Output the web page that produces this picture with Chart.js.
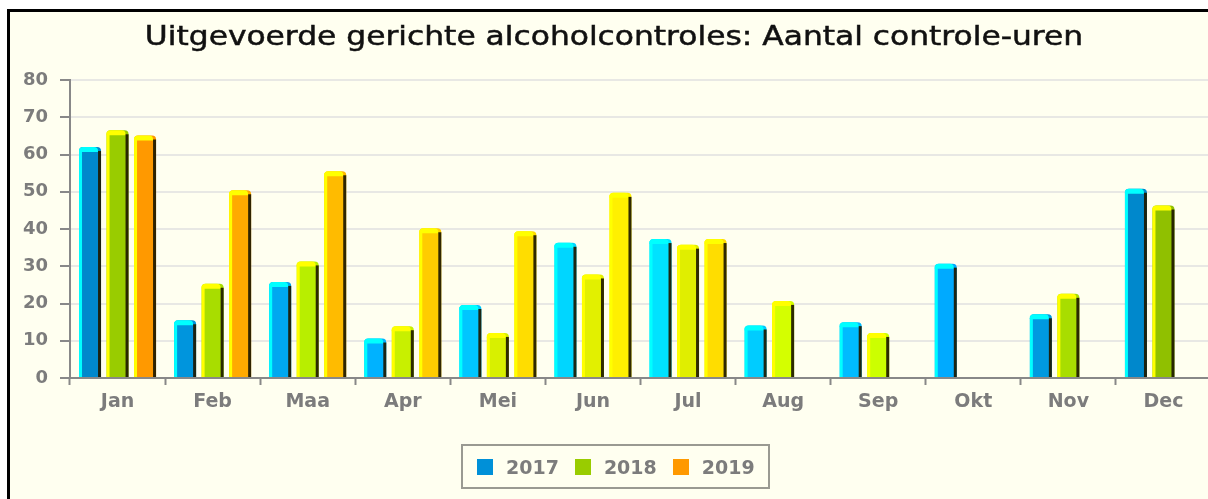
<!DOCTYPE html>
<html>
<head>
<meta charset="utf-8">
<script src="https://cdn.jsdelivr.net/npm/chart.js@4.4.0/dist/chart.umd.min.js"></script>
<style>
  html, body { margin: 0; padding: 0; background: #fff; overflow: hidden; }
  #frame { position: absolute; left: 7px; top: 9px; width: 1208px; height: 520px; border: 3px solid #000; background: #fffff0; }
  #wrap { position: absolute; left: 0; top: 0; width: 1208px; height: 520px; }
  #legend { position: absolute; left: 451px; top: 432px; width: 309px; height: 45px; box-sizing: border-box;
    border: 2px solid #9a9a92; display: flex; align-items: center; padding-left: 14px;
    font: bold 19px "DejaVu Sans", sans-serif; color: #7c7c7c; }
  #legend .item { display: flex; align-items: center; margin-right: 16px; }
  #legend .sw { width: 16px; height: 16px; margin-right: 13px; }
</style>
</head>
<body>
<div id="frame">
  <div id="wrap"><canvas id="chart"></canvas></div>
  <div id="legend"></div>
</div>
<script>
const title = 'Uitgevoerde gerichte alcoholcontroles: Aantal controle-uren';
const months = ['Jan', 'Feb', 'Maa', 'Apr', 'Mei', 'Jun', 'Jul', 'Aug', 'Sep', 'Okt', 'Nov', 'Dec'];
const years = ['2017', '2018', '2019'];
const uren2017 = [62, 15.5, 25.8, 10.6, 19.6, 36.3, 37.3, 14.1, 15, 30.7, 17.1, 50.8];
const uren2018 = [66.5, 25.3, 31.3, 13.9, 12.1, 27.8, 35.8, 20.7, 12.1, null, 22.6, 46.3];
const uren2019 = [65.1, 50.4, 55.5, 40.2, 39.4, 49.7, 37.3, null, null, null, null, null];

// per-month fill colours, they drift over the year like the original
const blues = ['#0088cc', '#0095dd', '#00a8f0', '#00b2ff', '#00c6ff', '#00d6ff', '#00e2ff', '#00ccff', '#00bbff', '#00aaff', '#0099e0', '#0088cc'];
const greens = ['#99cc00', '#a8dd00', '#b8ee00', '#c8f000', '#d8f000', '#e2f000', '#e0ee00', '#d4ff00', '#ccff00', '#bbee00', '#a8dd00', '#90c000'];
const oranges = ['#ff9900', '#ffaa00', '#ffbb00', '#ffcc00', '#ffdd00', '#fff000', '#ffdd00', '#ffcc00', '#ffbb00', '#ffaa00', '#ff9900', '#ff9900'];
const legendColors = ['#0090d8', '#99cc00', '#ff9900'];

const font = 'DejaVu Sans';
const gray = '#7c7c7c';

// bright cap + left edge, dark right edge: the old "3d" bar look
const bevel = {
  id: 'bevel',
  afterDatasetsDraw(chart) {
    const ctx = chart.ctx;
    chart.data.datasets.forEach((ds, i) => {
      const meta = chart.getDatasetMeta(i);
      if (meta.hidden) return;
      meta.data.forEach((bar, j) => {
        if (ds.data[j] == null) return;
        const {x, y, base, width} = bar.getProps(['x', 'y', 'base', 'width'], true);
        const l = x - width / 2, r = x + width / 2;
        ctx.save();
        ctx.fillStyle = ds.edge;
        ctx.fillRect(l, y + 2, 3, base - y - 2);
        ctx.beginPath();
        ctx.roundRect(l, y, width - 3, 5, [4, 4, 0, 0]);
        ctx.fill();
        ctx.fillStyle = 'rgba(30,25,0,.92)';
        ctx.fillRect(r - 3, y + 4, 3, base - y - 4);
        ctx.restore();
      });
    });
  }
};

// title drawn by hand: the original lettering is stretched sideways
const titleText = {
  id: 'titleText',
  afterDraw(chart) {
    const ctx = chart.ctx;
    ctx.save();
    ctx.translate(chart.width / 2, 33);
    ctx.scale(1.16, 1);
    ctx.font = `27px "${font}"`;
    ctx.fillStyle = '#111';
    ctx.strokeStyle = '#111';
    ctx.lineWidth = 0.5;
    ctx.textAlign = 'center';
    ctx.textBaseline = 'alphabetic';
    ctx.fillText(title, 0, 0);
    ctx.strokeText(title, 0, 0);
    ctx.restore();
  }
};

const legend = document.getElementById('legend');
years.forEach((yr, i) => {
  legend.insertAdjacentHTML('beforeend', `<div class="item"><div class="sw" style="background:${legendColors[i]}"></div>${yr}</div>`);
});

const bar = (label, data, colors, edge) => ({
  label, data, edge,
  backgroundColor: colors,
  borderWidth: 0,
  borderRadius: {topLeft: 4, topRight: 4},
  borderSkipped: 'bottom',
  categoryPercentage: 0.868,
  barPercentage: 0.8
});

new Chart(document.getElementById('chart'), {
  type: 'bar',
  data: {
    labels: months,
    datasets: [
      bar(years[0], uren2017, blues, '#00ffff'),
      bar(years[1], uren2018, greens, '#ffff00'),
      bar(years[2], uren2019, oranges, '#ffff00')
    ]
  },
  plugins: [bevel, titleText],
  options: {
    responsive: true,
    maintainAspectRatio: false,
    animation: false,
    layout: {padding: {top: 68, left: 0, right: 7, bottom: 114}},
    plugins: {
      legend: {display: false},
      tooltip: {enabled: false},
      title: {display: false}
    },
    scales: {
      x: {
        afterFit: s => { s.height = 40; },
        ticks: {color: gray, font: {family: font, size: 19, weight: 'bold'}, padding: 6},
        grid: {display: true, drawOnChartArea: false, tickLength: 7, tickColor: '#888', tickWidth: 2},
        border: {color: '#888', width: 2}
      },
      y: {
        min: 0,
        max: 80,
        afterFit: s => { s.width = 60; },
        ticks: {stepSize: 10, color: gray, font: {family: font, size: 18, weight: 'bold'}, padding: 12},
        grid: {
          color: ctx => ctx.tick.value === 0 ? 'rgba(0,0,0,0)' : '#e8e8e4',
          lineWidth: 2,
          tickLength: 10,
          tickColor: '#888',
          tickWidth: 2
        },
        border: {color: '#888', width: 2}
      }
    }
  }
});
</script>
</body>
</html>
